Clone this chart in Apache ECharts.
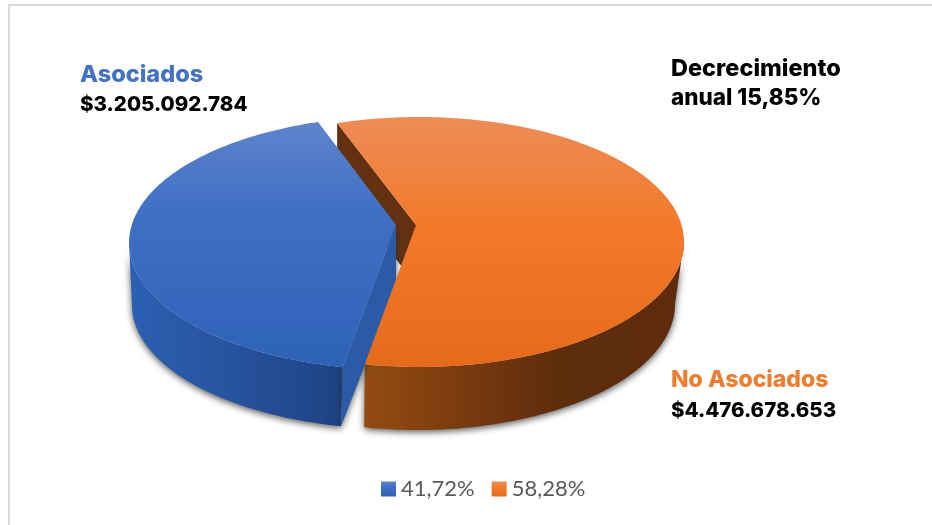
<!DOCTYPE html>
<html><head><meta charset="utf-8">
<style>html,body{margin:0;padding:0;background:#fff}#c{width:932px;height:525px}</style>
<script src="https://cdn.jsdelivr.net/npm/echarts@6/dist/echarts.min.js"></script>
</head><body><div id="c"></div>
<script>
const sliceNames = ['Asociados', 'No Asociados'];
const sliceValues = [3205092784, 4476678653];
const valueLabels = ['$3.205.092.784', '$4.476.678.653'];
const shareLabels = ['41,72%', '58,28%'];
const noteLines = ['Decrecimiento', 'anual 15,85%'];

const total = sliceValues[0] + sliceValues[1];
const rad = d => d * Math.PI / 180;
// projected pie geometry (an exploded, tilted 3D pie): each slice has its own ellipse
const geoBlue = { start: 107.6, cx: 400, cy: 243, rx: 271, ry: 127, ax: 396, ay: 225, bcx: 397, bcy: 305, brx: 265, bry: 124, depth: 60 };
const geoOrange = { start: 108, cx: 419, cy: 242, rx: 265, ry: 125, ax: 416, ay: 225, bcx: 417, bcy: 304, brx: 258, bry: 126, depth: 60 };

function arc(cx, cy, rx, ry, a0, a1) {
  const n = Math.max(2, Math.ceil(Math.abs(a1 - a0)));
  const pts = [];
  for (let i = 0; i <= n; i++) {
    const t = rad(a0 + (a1 - a0) * i / n);
    pts.push([cx + rx * Math.cos(t), cy - ry * Math.sin(t)]);
  }
  return pts;
}
function lin(horizontal, stops) {
  return { type: 'linear', x: 0, y: 0, x2: horizontal ? 1 : 0, y2: horizontal ? 0 : 1,
    colorStops: stops.map(s => ({ offset: s[0], color: s[1] })) };
}
const blueTop = lin(false, [[0, '#5f84cb'], [0.35, '#4070c6'], [1, '#2d62b7']]);
const orangeTop = lin(false, [[0, '#ed8c58'], [0.42, '#f27a2a'], [1, '#e56b1b']]);
const blueWall = lin(true, [[0, '#2b60b3'], [0.45, '#27549f'], [1, '#1d4283']]);
const orangeWall = lin(true, [[0, '#944b12'], [0.3, '#7a3b0e'], [0.6, '#5e2d0c'], [1, '#5e2c0c']]);
const shadow = { shadowBlur: 7, shadowColor: 'rgba(40,40,40,0.8)', shadowOffsetY: 2 };

// sweep of each slice in degrees, from the values
function blueEnd(v) { return geoBlue.start + 360 * v / total; }
function orangeEnd(v) { return geoOrange.start - 360 * v / total; }

function renderOrangeBack(params, api) {
  const g = geoOrange, end = orangeEnd(api.value(0));
  const s = arc(g.cx, g.cy, g.rx, g.ry, g.start, g.start)[0];
  const inner = [s, [g.ax, g.ay], [g.ax, g.ay + g.depth], [s[0], s[1] + g.depth]];
  const topArc = arc(g.cx, g.cy, g.rx, g.ry, 0, end);
  const botArc = arc(g.bcx, g.bcy, g.brx, g.bry, 0, end).reverse();
  return { type: 'group', children: [
    { type: 'polygon', shape: { points: inner }, style: { fill: '#633011' } },
    { type: 'polygon', shape: { points: topArc.concat(botArc) }, style: Object.assign({ fill: orangeWall }, shadow) }
  ] };
}
function renderBlue(params, api) {
  const g = geoBlue, end = blueEnd(api.value(0));
  const topArc = arc(g.cx, g.cy, g.rx, g.ry, 180, end);
  const botArc = arc(g.bcx, g.bcy, g.brx, g.bry, 180, end).reverse();
  const e = topArc[topArc.length - 1], b = botArc[0];
  const cut = [[g.ax, g.ay], [g.ax, g.ay + g.depth], b, e];
  const face = [[g.ax, g.ay]].concat(arc(g.cx, g.cy, g.rx, g.ry, g.start, end));
  return { type: 'group', children: [
    { type: 'polygon', shape: { points: topArc.concat(botArc) }, style: Object.assign({ fill: blueWall }, shadow) },
    { type: 'polygon', shape: { points: cut }, style: Object.assign({ fill: '#2b5aa6' }, shadow) },
    { type: 'polygon', shape: { points: face }, style: { fill: blueTop } }
  ] };
}
function renderOrangeTop(params, api) {
  const g = geoOrange, end = orangeEnd(api.value(0));
  const face = [[g.ax, g.ay]].concat(arc(g.cx, g.cy, g.rx, g.ry, g.start, end));
  return { type: 'polygon', shape: { points: face }, style: { fill: orangeTop } };
}

function label(text, x, y, color, size) {
  return { type: 'text', x: x, y: y, style: { text: text, fill: color, font: '800 ' + size + 'px Inter', textAlign: 'left', verticalAlign: 'middle' } };
}
const chart = echarts.init(document.getElementById('c'), null, { renderer: 'canvas' });
chart.setOption({
  animation: false,
  backgroundColor: '#fff',
  legend: {
    left: 376, top: 473, itemWidth: 15, itemHeight: 15, itemGap: 17, selectedMode: false,
    textStyle: { fontFamily: 'Lato', fontSize: 22, color: '#595959' },
    data: [
      { name: shareLabels[0], icon: 'rect', itemStyle: { color: blueTop } },
      { name: shareLabels[1], icon: 'rect', itemStyle: { color: orangeTop } }
    ]
  },
  series: [
    { type: 'custom', name: shareLabels[1], coordinateSystem: 'none', z: 1, silent: true, itemStyle: { color: '#ed7d31' }, renderItem: renderOrangeBack, data: [[sliceValues[1]]] },
    { type: 'custom', name: shareLabels[0], coordinateSystem: 'none', z: 2, silent: true, itemStyle: { color: '#4472c4' }, renderItem: renderBlue, data: [[sliceValues[0]]] },
    { type: 'custom', name: shareLabels[1], coordinateSystem: 'none', z: 3, silent: true, itemStyle: { color: '#ed7d31' }, renderItem: renderOrangeTop, data: [[sliceValues[1]]] }
  ],
  graphic: [
    { type: 'rect', shape: { x: 8, y: 4, width: 924, height: 2 }, style: { fill: '#d9d9d9' }, silent: true },
    { type: 'rect', shape: { x: 8, y: 4, width: 2, height: 521 }, style: { fill: '#d9d9d9' }, silent: true },
    label(sliceNames[0], 80, 75, '#4472c4', 23.5),
    label(valueLabels[0], 80, 105, '#000', 20.5),
    label(noteLines[0], 671, 69, '#000', 23.5),
    label(noteLines[1], 671, 98, '#000', 22.5),
    label(sliceNames[1], 671, 380, '#ed7d31', 23),
    label(valueLabels[1], 671, 411, '#000', 20.5)
  ]
});
</script></body></html>
